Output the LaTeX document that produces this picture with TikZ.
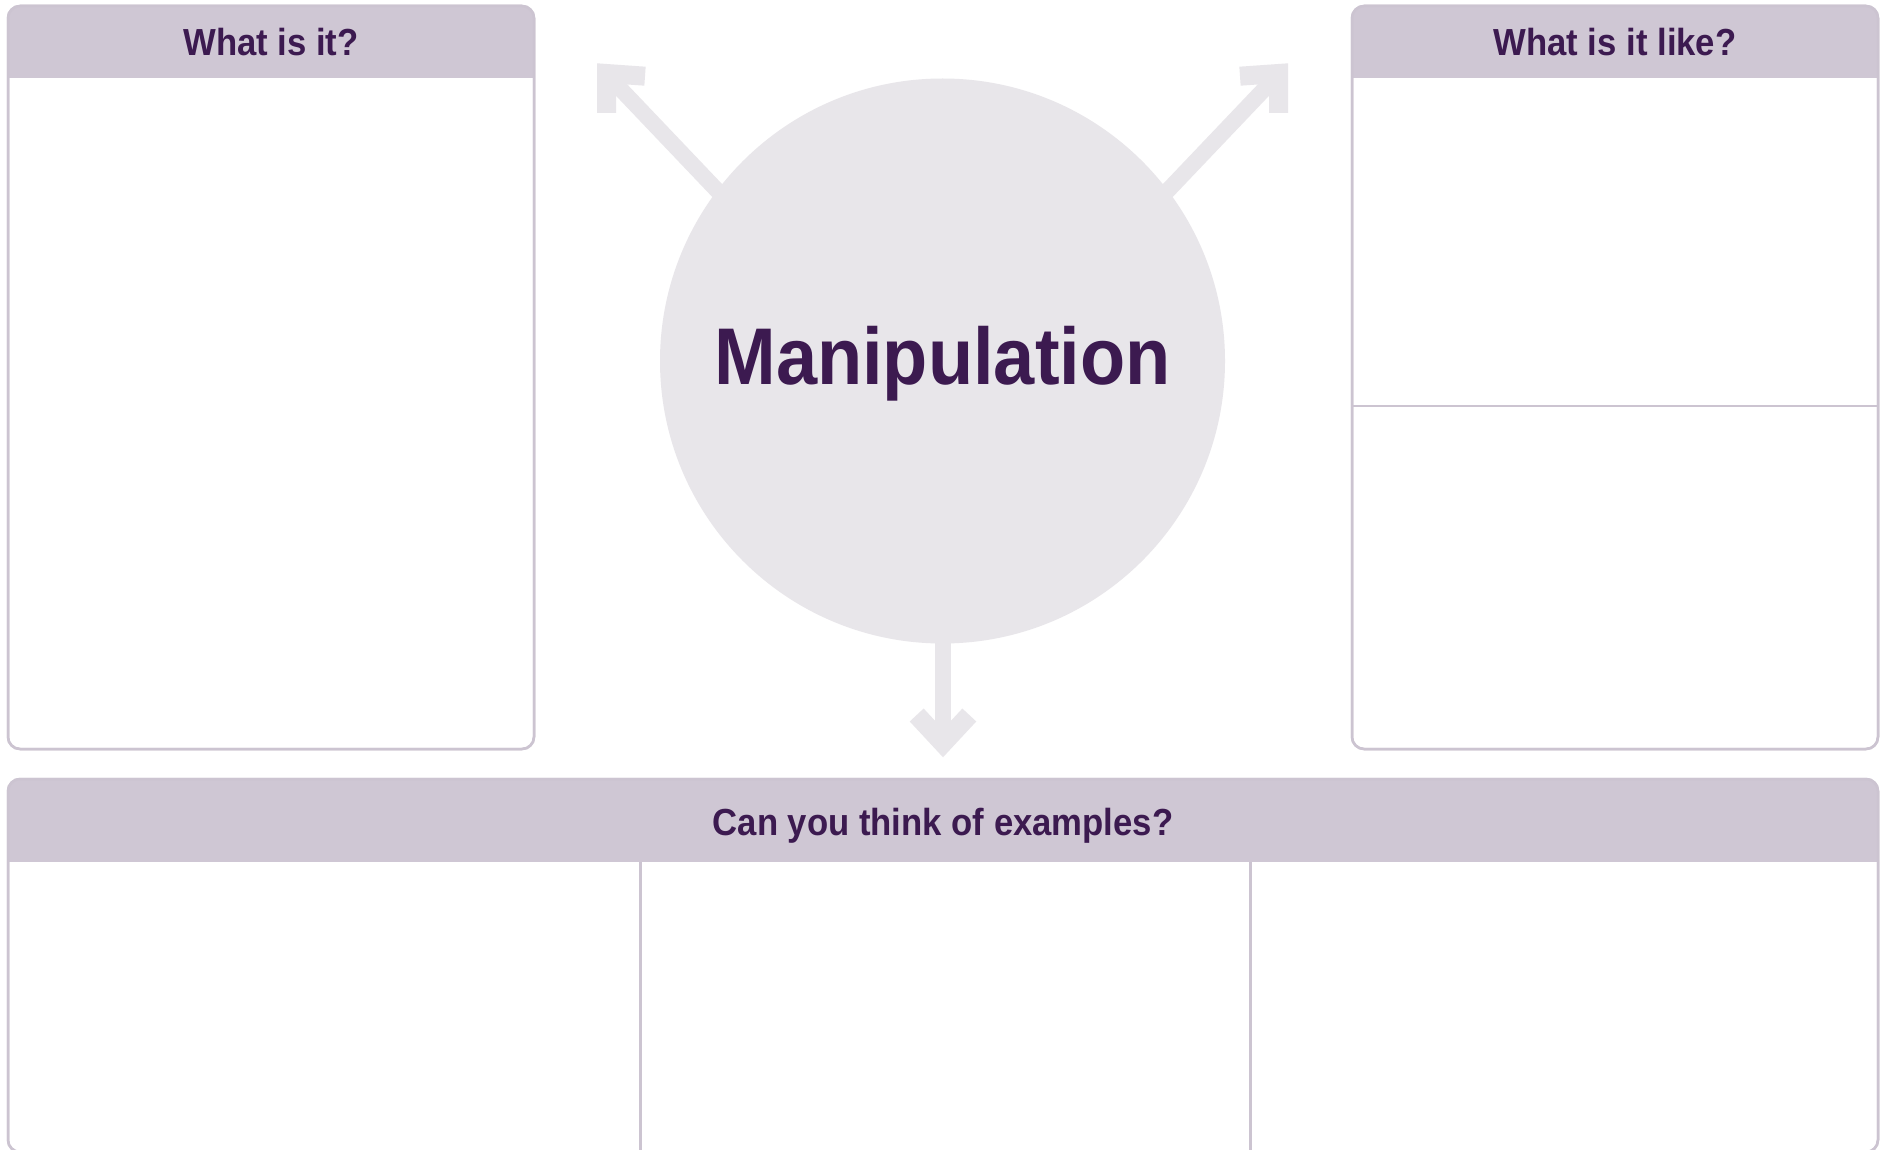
\documentclass[tikz,border=0pt]{standalone}
\usepackage{fontspec}
\usepackage{graphicx}
\setmainfont{Liberation Sans}
\usetikzlibrary{calc}
\definecolor{hdr}{HTML}{CFC7D4}
\definecolor{brd}{HTML}{CCC4D1}
\definecolor{ink}{HTML}{3C1A50}
\definecolor{pale}{HTML}{E8E6EA}
\tikzset{
  panel/.style={draw=brd, line width=2.5pt, rounded corners=12pt, fill=white, inner sep=0pt, outer sep=0pt},
  panelline/.style={draw=brd, line width=2.5pt, rounded corners=12pt},
  divider/.style={draw=brd, line width=2.2pt},
  headtext/.style={text=ink, font=\fontsize{37.7}{42}\selectfont\bfseries, inner sep=0pt, anchor=base},
  titletext/.style={text=ink, font=\fontsize{80.4}{90}\selectfont\bfseries, inner sep=0pt, anchor=base},
  shaft/.style={draw=pale, line width=16pt, line cap=butt},
  barb/.style={draw=pale, line width=19pt, line join=miter, miter limit=10, line cap=butt},
}
\begin{document}
\begin{tikzpicture}[x=1pt,y=-1pt]
\useasboundingbox[fill=white] (0,0) rectangle (1885,1150);

% left panel
\node[panel, minimum width=526pt, minimum height=743pt] (whatbox) at (271,377.5) {};
\begin{scope}
  \clip[rounded corners=12pt] (whatbox.south west) rectangle (whatbox.north east);
  \fill[hdr] (whatbox.north west) rectangle (534,78.5);
\end{scope}
\draw[panelline] (whatbox.south west) rectangle (whatbox.north east);
\node[headtext] (whattext) at (271,55.5) {\scalebox{0.92}[1]{What is it?}};

% right panel
\node[panel, minimum width=526pt, minimum height=743pt] (likebox) at (1615,377.5) {};
\begin{scope}
  \clip[rounded corners=12pt] (likebox.south west) rectangle (likebox.north east);
  \fill[hdr] (likebox.north west) rectangle (1878,78.5);
\end{scope}
\draw[panelline] (likebox.south west) rectangle (likebox.north east);
\coordinate (likediv1) at (1352,406);
\coordinate (likediv2) at (1878,406);
\draw[divider] (likediv1) -- (likediv2);
\node[headtext] (liketext) at (1615,55.5) {\scalebox{0.92}[1]{What is it like?}};

% bottom panel (runs off the lower edge)
\node[panel, minimum width=1870pt, minimum height=373pt] (exbox) at (943,965.5) {};
\begin{scope}
  \clip[rounded corners=12pt] (exbox.south west) rectangle (exbox.north east);
  \fill[hdr] (exbox.north west) rectangle (1878,862);
\end{scope}
\draw[panelline] (exbox.south west) rectangle (exbox.north east);
\coordinate (exdivAtop) at (640.5,862);
\coordinate (exdivAbot) at (640.5,1150);
\coordinate (exdivBtop) at (1250.5,862);
\coordinate (exdivBbot) at (1250.5,1150);
\draw[divider] (exdivAtop) -- (exdivAbot);
\draw[divider] (exdivBtop) -- (exdivBbot);
\node[headtext] (extext) at (943,835) {\scalebox{0.92}[1]{Can you think of examples?}};

% central circle
\node[circle, fill=pale, minimum size=565pt, inner sep=0pt] (circ) at (942.5,361) {};
\node[titletext] (title) at (942.5,384) {\scalebox{0.92}[1]{Manipulation}};

% upper-left arrow
\coordinate (ulstart) at (760,235.5);
\coordinate (ulend) at (612,80);
\coordinate (ulA) at (645,76.2);
\coordinate (ulC) at (606.5,73.5);
\coordinate (ulB) at (606.5,113);
\draw[shaft] (ulstart) -- (ulend);
\draw[barb] (ulA) -- (ulC) -- (ulB);

% upper-right arrow
\coordinate (urstart) at (1125,235.5);
\coordinate (urend) at (1273,80);
\coordinate (urA) at (1240,76.2);
\coordinate (urC) at (1278.5,73.5);
\coordinate (urB) at (1278.5,113);
\draw[shaft] (urstart) -- (urend);
\draw[barb] (urA) -- (urC) -- (urB);

% downward arrow
\coordinate (dnstart) at (942.8,600);
\coordinate (dnend) at (942.8,735);
\coordinate (dnA) at (916.7,715);
\coordinate (dnC) at (943,743.3);
\coordinate (dnB) at (969.3,715);
\draw[shaft] (dnstart) -- (dnend);
\draw[barb] (dnA) -- (dnC) -- (dnB);
\end{tikzpicture}
\end{document}
